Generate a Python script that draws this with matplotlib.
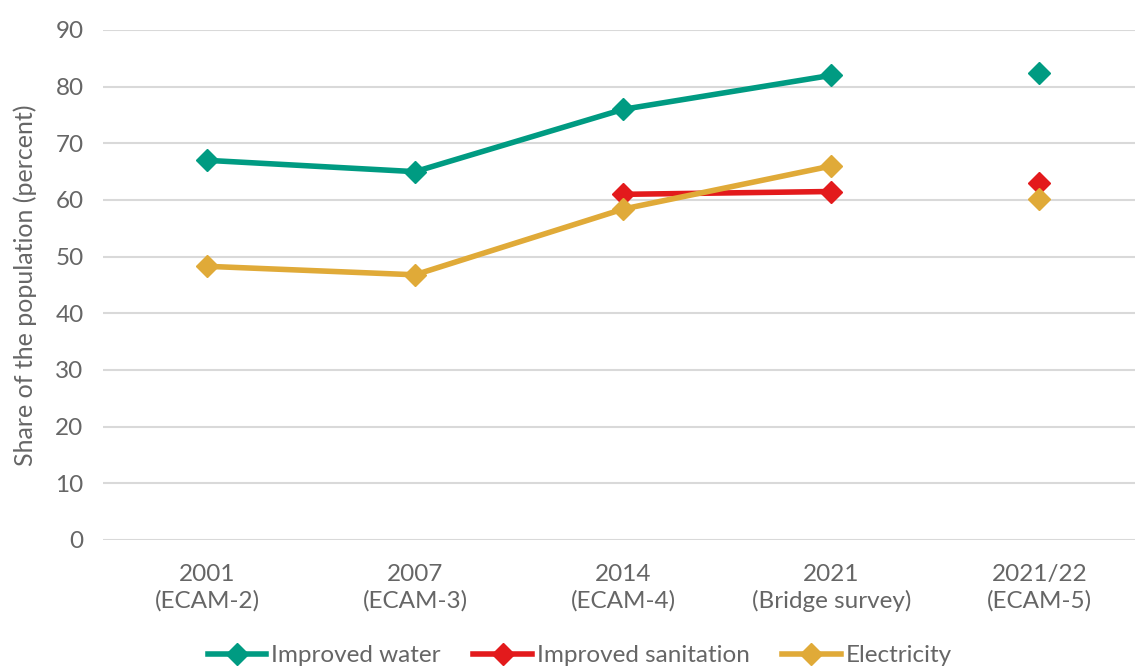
import matplotlib.pyplot as plt
import numpy as np

plt.rcParams['font.family'] = ['Lato', 'DejaVu Sans']

categories = ['2001\n(ECAM-2)', '2007\n(ECAM-3)', '2014\n(ECAM-4)',
              '2021\n(Bridge survey)', '2021/22\n(ECAM-5)']
water = [67.0, 65.0, 76.0, 82.0]
sanitation = [61.0, 61.5]
electricity = [48.3, 46.8, 58.4, 66.0]
# ECAM-5 points stand alone (not joined by lines)
ecam5 = {'water': 82.4, 'sanitation': 63.0, 'electricity': 60.1}

c_water = '#009B82'
c_san = '#E31A1C'
c_elec = '#E0AA38'
grey = '#666666'

fig = plt.figure(figsize=(11.35, 6.69), dpi=100)
ax = fig.add_axes([103 / 1135, 1 - 540 / 669, 1 - 103 / 1135, 510 / 669])

x = np.arange(len(categories))
lw = 4
ms = 11
ax.plot(x[:4], water, color=c_water, lw=lw, marker='D', ms=ms, label='Improved water', zorder=3)
ax.plot(x[2:4], sanitation, color=c_san, lw=lw, marker='D', ms=ms, label='Improved sanitation', zorder=3)
ax.plot(x[:4], electricity, color=c_elec, lw=lw, marker='D', ms=ms, label='Electricity', zorder=4)
ax.plot([4], [ecam5['water']], color=c_water, marker='D', ms=ms, ls='none', zorder=3)
ax.plot([4], [ecam5['sanitation']], color=c_san, marker='D', ms=ms, ls='none', zorder=3)
ax.plot([4], [ecam5['electricity']], color=c_elec, marker='D', ms=ms, ls='none', zorder=4)

ax.set_xlim(-0.5, 4.46)
ax.set_ylim(0, 90)
ax.set_yticks(range(0, 91, 10))
ax.set_xticks(x)
ax.set_xticklabels(categories, fontsize=17.5, color=grey, linespacing=1.3)
ax.tick_params(axis='y', labelsize=17.5, labelcolor=grey, length=0, pad=14)
ax.tick_params(axis='x', length=0, pad=17)
ax.grid(axis='y', color='#D9D9D9', lw=1.5)
ax.set_axisbelow(True)
for s in ax.spines.values():
    s.set_visible(False)

ax.set_ylabel('Share of the population (percent)', fontsize=18, color=grey, labelpad=13)

ax.legend(loc='lower center', bbox_to_anchor=(0.462, -0.29), ncol=3, frameon=False,
          fontsize=17.5, labelcolor=grey, handlelength=2.4, columnspacing=1.35, handletextpad=0.2)

fig.savefig('out.png', dpi=100)
